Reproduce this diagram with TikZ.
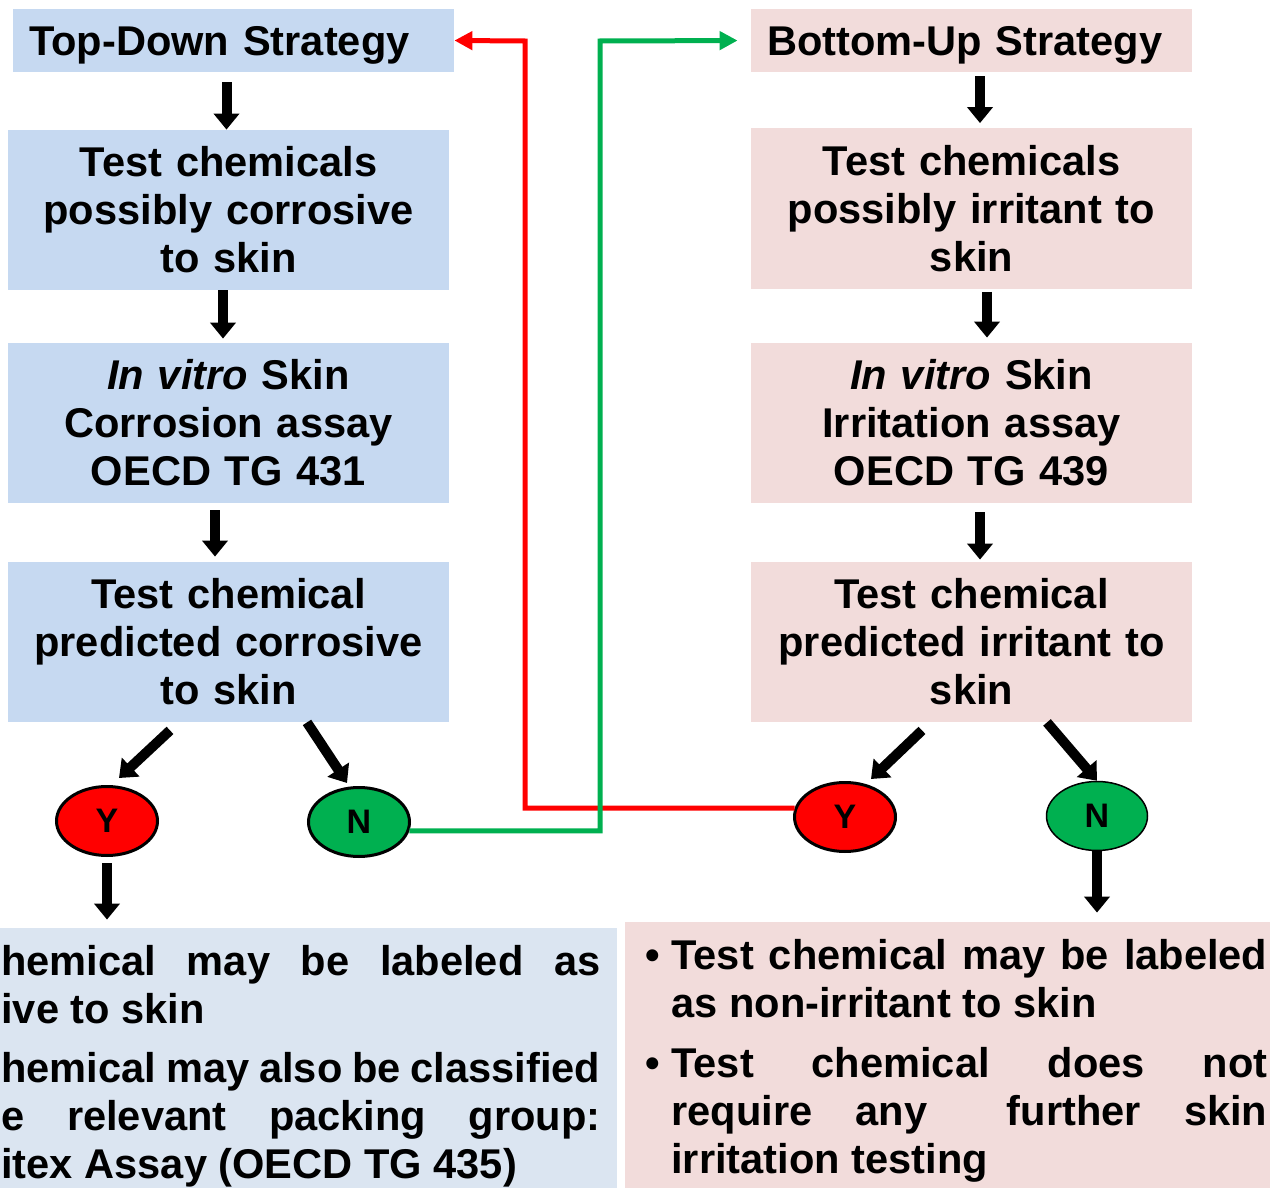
\documentclass[tikz,border=0pt]{standalone}
\usepackage{fontspec}
\setmainfont{Liberation Sans}
\usetikzlibrary{arrows.meta,shapes.geometric}

\definecolor{tdazul}{HTML}{C6D9F1}
\definecolor{tdclaro}{HTML}{DBE5F1}
\definecolor{burosa}{HTML}{F2DCDB}
\definecolor{verde}{HTML}{00B050}

\newcommand{\vineta}{\leavevmode\llap{\makebox[13pt][l]{•}}}

\tikzset{
  letra/.style={font=\fontsize{20.8pt}{24pt}\selectfont\bfseries},
  cabeza/.style={letra, fill=#1, minimum height=31.5pt, text width=204.5pt,
    text depth=0pt, inner xsep=8pt, inner ysep=0pt, align=left},
  caja/.style={letra, fill=#1, minimum width=220.5pt, minimum height=80pt,
    text width=210pt, inner sep=0pt, align=center},
  ovalo/.style={ellipse, draw=black, line width=1.5pt, fill=#1,
    minimum width=50.5pt, minimum height=34.5pt, inner sep=0pt,
    font=\fontsize{17pt}{19pt}\selectfont\bfseries},
  flecha/.style={line width=5pt, -{Triangle[width=12.5pt,length=8pt]}},
  enlace/.style={draw=#1, line width=2.5pt, -{Triangle[width=9pt,length=9pt]}}
}

\begin{document}
\begin{tikzpicture}[x=0.5pt, y=-0.5pt]
    \useasboundingbox (0,0) rectangle (1270,1188);

    % Estrategia de arriba hacia abajo
    \node[cabeza=tdazul] (td) at (233.5,40.5) {Top-Down Strategy};
    \node[caja=tdazul] (tdA) at (228.5,210) {Test chemicals\\possibly corrosive\\to skin};
    \node[caja=tdazul] (tdB) at (228.5,423) {\textit{In vitro} Skin\\Corrosion assay\\OECD TG 431};
    \node[caja=tdazul] (tdC) at (228.5,642) {Test chemical\\predicted corrosive\\to skin};

    % Estrategia de abajo hacia arriba
    \node[cabeza=burosa] (bu) at (971.5,40.5) {Bottom-Up Strategy};
    \node[caja=burosa] (buA) at (971.5,208.5) {Test chemicals\\possibly irritant to\\skin};
    \node[caja=burosa] (buB) at (971.5,423) {\textit{In vitro} Skin\\Irritation assay\\OECD TG 439};
    \node[caja=burosa] (buC) at (971.5,642) {Test chemical\\predicted irritant to\\skin};

    % Cajas de resultados
    \node[fill=tdclaro, minimum width=308.5pt, minimum height=130pt, inner sep=0pt] (tdres) at (308.5,1058) {};
    \node[fill=burosa, minimum width=322.5pt, minimum height=133pt, inner sep=0pt] (bures) at (947.5,1055) {};
    \node[letra, anchor=base west, inner sep=0pt] (tdtxt) at (1,975) {%
      \begin{minipage}[t]{299.5pt}
        \hbadness=10000 \hyphenpenalty=10000 \parskip=5.5pt \parindent=0pt
        hemical may be labeled as\linebreak ive to skin\par
        hemical may also be classified\linebreak e relevant packing group:\linebreak itex Assay (OECD TG 435)
      \end{minipage}};
    \node[letra, anchor=base west, inner sep=0pt] (butxt) at (671,969) {%
      \begin{minipage}[t]{298pt}
        \hbadness=10000 \hyphenpenalty=10000 \parskip=6pt \parindent=0pt
        \vineta Test chemical may be labeled\linebreak as non-irritant to skin\par
        \vineta Test chemical does not\linebreak require any\hspace{18pt} further skin\linebreak irritation testing
      \end{minipage}};

    % Flechas verticales
    \draw[flecha] ([xshift=-3.5pt,yshift=-5pt]td.south) -- ([xshift=-1pt]tdA.north);
    \draw[flecha] ([xshift=-2.75pt]tdA.south) -- ([xshift=-2.75pt,yshift=2pt]tdB.north);
    \draw[flecha] ([xshift=-6.75pt,yshift=-3.5pt]tdB.south) -- ([xshift=-6.75pt,yshift=2.5pt]tdC.north);
    \draw[flecha] ([xshift=4.25pt,yshift=-2pt]bu.south) -- ([xshift=4.25pt,yshift=2.5pt]buA.north);
    \draw[flecha] ([xshift=7.75pt,yshift=-1.5pt]buA.south) -- ([xshift=7.75pt,yshift=2.5pt]buB.north);
    \draw[flecha] ([xshift=4.25pt,yshift=-4.5pt]buB.south) -- ([xshift=4.25pt,yshift=1pt]buC.north);

    % Nodos Y / N
    \node[ovalo=red] (ly) at (107,821) {Y};
    \node[ovalo=verde] (ln) at (359,822) {N};
    \node[ovalo=red] (ry) at (845,817) {Y};
    \node[ovalo=verde, line width=0.75pt] (rn) at (1097,816) {N};

    % Flechas diagonales
    \draw[flecha] ([xshift=-29.25pt,yshift=-4pt]tdC.south) -- ([xshift=6pt,yshift=3.5pt]ly.north);
    \draw[flecha] ([xshift=39.25pt]tdC.south) -- ([xshift=-6pt,yshift=1.5pt]ln.north);
    \draw[flecha] ([xshift=-24.75pt,yshift=-4pt]buC.south) -- ([xshift=13pt,yshift=1pt]ry.north);
    \draw[flecha] ([xshift=37.75pt]buC.south) -- (rn.north);
    \draw[flecha, shorten <=3pt, shorten >=4pt] (ly.south) -- (ly.south |- tdres.north);
    \draw[flecha, shorten >=4.5pt] (rn.south) -- (rn.south |- bures.north);

    % Enlaces entre estrategias
    \coordinate (rk) at (525,41);
    \coordinate (gk) at (600,41);
    \draw[enlace=red] (ry.170) -| (rk) -- (td.east);
    \draw[enlace=verde, shorten >=6.5pt] (ln.-10) -| (gk) -- (bu.west);
\end{tikzpicture}
\end{document}
